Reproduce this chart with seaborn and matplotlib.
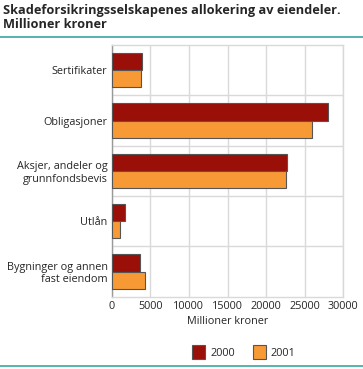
import matplotlib
matplotlib.use("Agg")
import matplotlib.pyplot as plt
from matplotlib.lines import Line2D
from matplotlib.patches import Patch
import seaborn as sns
import pandas as pd

categories = ["Sertifikater", "Obligasjoner", "Aksjer, andeler og\ngrunnfondsbevis",
              "Utlån", "Bygninger og annen\nfast eiendom"]
years = ["2000", "2001"]
values_2000 = [3900, 28000, 22650, 1750, 3630]
values_2001 = [3850, 26000, 22550, 1100, 4280]
xticks = [0, 5000, 10000, 15000, 20000, 25000, 30000]

df = pd.DataFrame({
    "kategori": categories * 2,
    "år": [years[0]] * len(categories) + [years[1]] * len(categories),
    "verdi": values_2000 + values_2001,
})

sns.set_style("white")
plt.rcParams["font.family"] = ["Open Sans", "DejaVu Sans"]

colors = {"2000": "#9a0f07", "2001": "#f79a36"}
teal = "#3aa59f"
fs = 7.8

fig = plt.figure(figsize=(3.63, 3.69), dpi=100)
ax = fig.add_axes([111.7 / 363, 1 - 296.7 / 369, (343.3 - 111.7) / 363, (296.7 - 45) / 369])

sns.barplot(data=df, y="kategori", x="verdi", hue="år", orient="h", palette=colors,
            saturation=1, width=0.68, edgecolor="#555555", linewidth=0.8, ax=ax,
            legend=False, zorder=3)

ax.set_xlim(0, 30000)
ax.set_ylim(4.5, -0.5)
ax.set_xticks(xticks)
ax.set_xticklabels([str(v) for v in xticks], fontsize=fs)
ax.set_yticks(range(len(categories)))
ax.set_yticklabels(categories, fontsize=fs, linespacing=1.15)
ax.set_yticks([0.5, 1.5, 2.5, 3.5], minor=True)
ax.tick_params(axis="both", which="both", length=0, pad=3)
ax.grid(True, axis="x", color="#d9d9d9", linewidth=1, zorder=0)
ax.grid(True, axis="y", which="minor", color="#d9d9d9", linewidth=1, zorder=0)
ax.grid(False, axis="y", which="major")
for s in ax.spines.values():
    s.set_color("#d9d9d9")
    s.set_linewidth(1)
ax.spines["left"].set_color("#999999")
ax.set_ylabel("")
ax.set_xlabel("Millioner kroner", fontsize=fs, labelpad=3)

fig.text(3 / 363, 1 - 4 / 369, "Skadeforsikringsselskapenes allokering av eiendeler.\nMillioner kroner",
         fontsize=9.2, fontweight="bold", va="top", ha="left", linespacing=1.1)

fig.add_artist(Line2D([0, 1], [1 - 37 / 369, 1 - 37 / 369], color=teal, linewidth=1.2))
fig.add_artist(Line2D([0, 1], [1 - 366 / 369, 1 - 366 / 369], color=teal, linewidth=1.2))

handles = [Patch(facecolor=colors[y], edgecolor="#555555", linewidth=0.8) for y in years]
fig.legend(handles, years, loc="center", bbox_to_anchor=(244 / 363, 1 - 352 / 369), ncol=2,
           frameon=False, fontsize=fs, handlelength=1.2, handleheight=1.75,
           columnspacing=1.6, handletextpad=0.5)

fig.savefig("out.png", dpi=100)
